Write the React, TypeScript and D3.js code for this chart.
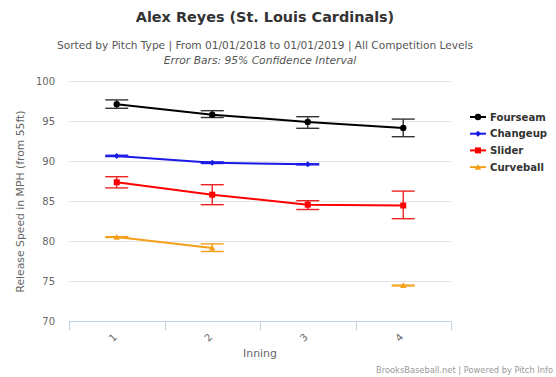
import React from "react";
import * as d3 from "d3";

const innings = ["1", "2", "3", "4"];
const yTicks = [70, 75, 80, 85, 90, 95, 100];

const fourseam = [97.15, 95.85, 94.95, 94.2];
const fourseamLow = [96.65, 95.5, 94.15, 93.1];
const fourseamHigh = [97.7, 96.35, 95.6, 95.3];

const changeup = [90.7, 89.85, 89.65, null];
const changeupLow = [90.62, 89.75, 89.58, null];
const changeupHigh = [90.78, 89.95, 89.72, null];

const slider = [87.4, 85.85, 84.6, 84.5];
const sliderLow = [86.7, 84.6, 84.0, 82.85];
const sliderHigh = [88.1, 87.1, 85.1, 86.3];

const curveball = [80.55, 79.2, null, 74.5];
const curveballLow = [80.5, 78.75, null, 74.45];
const curveballHigh = [80.6, 79.7, null, 74.55];

type Series = {
  name: string;
  color: string;
  errColor: string;
  symbol: string;
  values: (number | null)[];
  low: (number | null)[];
  high: (number | null)[];
};

const series: Series[] = [
  { name: "Fourseam", color: "#000000", errColor: "#333333", symbol: "circle", values: fourseam, low: fourseamLow, high: fourseamHigh },
  { name: "Changeup", color: "#1a1ae6", errColor: "#1a1ae6", symbol: "diamond", values: changeup, low: changeupLow, high: changeupHigh },
  { name: "Slider", color: "#ff0000", errColor: "#ee2222", symbol: "square", values: slider, low: sliderLow, high: sliderHigh },
  { name: "Curveball", color: "#f5a01a", errColor: "#f5a01a", symbol: "triangle", values: curveball, low: curveballLow, high: curveballHigh },
];

const FONT = "'DejaVu Sans', sans-serif";

const plotLeft = 69;
const plotRight = 451;
const plotTop = 81.5;
const plotBottom = 321.5;

function Marker({ symbol, x, y, color }: { symbol: string; x: number; y: number; color: string }) {
  if (symbol === "circle") return <circle cx={x} cy={y} r={3.2} fill={color} />;
  if (symbol === "square") return <rect x={x - 3} y={y - 3} width={6} height={6} fill={color} />;
  if (symbol === "diamond")
    return <path d={`M${x},${y - 3}L${x + 3},${y}L${x},${y + 3}L${x - 3},${y}Z`} fill={color} />;
  return <path d={`M${x},${y - 3.2}L${x + 3.2},${y + 2.6}L${x - 3.2},${y + 2.6}Z`} fill={color} />;
}

export default function App() {
  const x = d3.scaleBand<string>().domain(innings).range([plotLeft, plotRight]);
  const y = d3.scaleLinear().domain([70, 100]).range([plotBottom, plotTop]);
  const cx = (i: string) => (x(i) as number) + x.bandwidth() / 2;

  const line = d3
    .line<[string, number | null]>()
    .defined((d) => d[1] !== null)
    .x((d) => cx(d[0]))
    .y((d) => y(d[1] as number));

  const boundaries = [...innings.map((i) => x(i) as number), plotRight];

  return (
    <svg width={556} height={377} style={{ display: "block", position: "absolute", left: 0, top: 0 }} fontFamily={FONT}>
      <rect width={556} height={377} fill="#fff" />
      <text x={265} y={22} textAnchor="middle" fontSize={14.4} fontWeight="bold" fill="#333">
        Alex Reyes (St. Louis Cardinals)
      </text>
      <text x={265} y={49} textAnchor="middle" fontSize={10.6} fill="#555">
        Sorted by Pitch Type | From 01/01/2018 to 01/01/2019 | All Competition Levels
      </text>
      <text x={260} y={64} textAnchor="middle" fontSize={10.7} fontStyle="italic" fill="#555">
        Error Bars: 95% Confidence Interval
      </text>

      {/* gridlines */}
      {yTicks.filter((t) => t !== 70).map((t) => (
        <line key={t} x1={plotLeft} x2={plotRight} y1={y(t)} y2={y(t)} stroke="#e4e4e4" strokeWidth={1} />
      ))}
      {yTicks.map((t) => (
        <text key={t} x={55} y={y(t)} dy="0.35em" textAnchor="end" fontSize={10} fill="#666">
          {t}
        </text>
      ))}
      <text
        transform={`translate(24,${(plotTop + plotBottom) / 2}) rotate(-90)`}
        textAnchor="middle"
        fontSize={10.8}
        fill="#666"
      >
        Release Speed in MPH (from 55ft)
      </text>

      {/* x axis */}
      <line x1={plotLeft} x2={plotRight} y1={plotBottom} y2={plotBottom} stroke="#c0d0e0" strokeWidth={1} />
      {boundaries.map((b, i) => (
        <line key={i} x1={Math.round(b) + 0.5} x2={Math.round(b) + 0.5} y1={plotBottom} y2={plotBottom + 9} stroke="#c0d0e0" strokeWidth={1} />
      ))}
      {innings.map((i) => (
        <text
          key={i}
          transform={`translate(${cx(i) - 4},${337.5}) rotate(-45)`}
          textAnchor="middle"
          dy="0.35em"
          fontSize={10}
          fill="#666"
        >
          {i}
        </text>
      ))}
      <text x={(plotLeft + plotRight) / 2} y={356.5} textAnchor="middle" fontSize={10.9} fill="#666">
        Inning
      </text>

      {/* series */}
      {series.map((s) => (
        <g key={s.name}>
          <path
            d={line(innings.map((i, k) => [i, s.values[k]] as [string, number | null])) || ""}
            fill="none"
            stroke={s.color}
            strokeWidth={2}
          />
          {innings.map((i, k) => {
            const lo = s.low[k];
            const hi = s.high[k];
            if (lo === null || hi === null) return null;
            const xc = cx(i);
            return (
              <g key={i} stroke={s.errColor} strokeWidth={1.4}>
                <line x1={xc} x2={xc} y1={y(lo)} y2={y(hi)} />
                <line x1={xc - 11.5} x2={xc + 11.5} y1={y(lo)} y2={y(lo)} />
                <line x1={xc - 11.5} x2={xc + 11.5} y1={y(hi)} y2={y(hi)} />
              </g>
            );
          })}
          {innings.map((i, k) => {
            const v = s.values[k];
            if (v === null) return null;
            return <Marker key={i} symbol={s.symbol} x={cx(i)} y={y(v)} color={s.color} />;
          })}
        </g>
      ))}

      {/* legend */}
      {series.map((s, k) => {
        const ly = 117 + k * 16.7;
        return (
          <g key={s.name}>
            <line x1={470} x2={486} y1={ly} y2={ly} stroke={s.color} strokeWidth={2} />
            <Marker symbol={s.symbol} x={478} y={ly} color={s.color} />
            <text x={490} y={ly} dy="0.35em" fontSize={10.1} fontWeight="bold" fill="#333">
              {s.name}
            </text>
          </g>
        );
      })}

      <text x={553} y={373} textAnchor="end" fontSize={8.3} fill="#999">
        BrooksBaseball.net | Powered by Pitch Info
      </text>
    </svg>
  );
}
